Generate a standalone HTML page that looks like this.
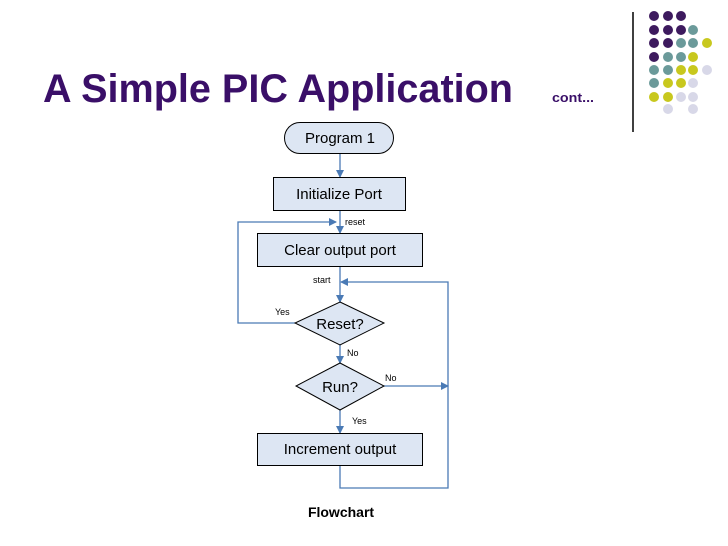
<!DOCTYPE html>
<html><head><style>body{margin:0;background:#fff}svg{display:block}</style></head><body>
<svg width="728" height="546" xmlns="http://www.w3.org/2000/svg" font-family="Liberation Sans, Arial, sans-serif">
<defs><marker id="a" markerWidth="8" markerHeight="8" refX="7" refY="4" orient="auto" markerUnits="userSpaceOnUse"><path d="M0,0 L8,4 L0,8 z" fill="#4a7ab5"/></marker></defs>
<text x="43" y="102" font-size="40" font-weight="bold" fill="#3a0f68" textLength="470" lengthAdjust="spacingAndGlyphs">A Simple PIC Application</text>
<text x="552" y="102" font-size="13" font-weight="bold" fill="#3a0f68" textLength="42" lengthAdjust="spacingAndGlyphs">cont...</text>
<line x1="633" y1="12" x2="633" y2="132" stroke="#000" stroke-width="1.5"/>
<g>
<circle cx="654" cy="16" r="5" fill="#3d1a5e"/><circle cx="668" cy="16" r="5" fill="#3d1a5e"/><circle cx="681" cy="16" r="5" fill="#3d1a5e"/>
<circle cx="654" cy="30" r="5" fill="#3d1a5e"/><circle cx="668" cy="30" r="5" fill="#3d1a5e"/><circle cx="681" cy="30" r="5" fill="#3d1a5e"/><circle cx="693" cy="30" r="5" fill="#6b9a9a"/>
<circle cx="654" cy="43" r="5" fill="#3d1a5e"/><circle cx="668" cy="43" r="5" fill="#3d1a5e"/><circle cx="681" cy="43" r="5" fill="#6b9a9a"/><circle cx="693" cy="43" r="5" fill="#6b9a9a"/><circle cx="707" cy="43" r="5" fill="#c8c81e"/>
<circle cx="654" cy="57" r="5" fill="#3d1a5e"/><circle cx="668" cy="57" r="5" fill="#6b9a9a"/><circle cx="681" cy="57" r="5" fill="#6b9a9a"/><circle cx="693" cy="57" r="5" fill="#c8c81e"/>
<circle cx="654" cy="70" r="5" fill="#6b9a9a"/><circle cx="668" cy="70" r="5" fill="#6b9a9a"/><circle cx="681" cy="70" r="5" fill="#c8c81e"/><circle cx="693" cy="70" r="5" fill="#c8c81e"/><circle cx="707" cy="70" r="5" fill="#d8d8e8"/>
<circle cx="654" cy="83" r="5" fill="#6b9a9a"/><circle cx="668" cy="83" r="5" fill="#c8c81e"/><circle cx="681" cy="83" r="5" fill="#c8c81e"/><circle cx="693" cy="83" r="5" fill="#d8d8e8"/>
<circle cx="654" cy="97" r="5" fill="#c8c81e"/><circle cx="668" cy="97" r="5" fill="#c8c81e"/><circle cx="681" cy="97" r="5" fill="#d8d8e8"/><circle cx="693" cy="97" r="5" fill="#d8d8e8"/>
<circle cx="668" cy="109" r="5" fill="#d8d8e8"/><circle cx="693" cy="109" r="5" fill="#d8d8e8"/>
</g>
<g stroke="#4a7ab5" stroke-width="1.3" fill="none">
<line x1="340" y1="154" x2="340" y2="177" marker-end="url(#a)"/>
<line x1="340" y1="211" x2="340" y2="233" marker-end="url(#a)"/>
<line x1="340" y1="266" x2="340" y2="302" marker-end="url(#a)"/>
<line x1="340" y1="345" x2="340" y2="363" marker-end="url(#a)"/>
<line x1="340" y1="410" x2="340" y2="433" marker-end="url(#a)"/>
<polyline points="295,323 238,323 238,222 336,222" marker-end="url(#a)"/>
<polyline points="384,386 448,386" marker-end="url(#a)"/>
<polyline points="340,465 340,488 448,488 448,282 341,282" marker-end="url(#a)"/>
</g>
<g stroke="#000" stroke-width="1" fill="#dde6f3">
<rect x="284.5" y="122.5" width="109" height="31" rx="15.5"/>
<rect x="273.5" y="177.5" width="132" height="33"/>
<rect x="257.5" y="233.5" width="165" height="33"/>
<polygon points="340,302 384,323 340,345 295,323"/>
<polygon points="340,363 384,386 340,410 296,386"/>
<rect x="257.5" y="433.5" width="165" height="32"/>
</g>
<g font-size="15" fill="#000" text-anchor="middle">
<text x="340" y="143">Program  1</text>
<text x="339" y="199">Initialize Port</text>
<text x="340" y="255">Clear output port</text>
<text x="340" y="329">Reset?</text>
<text x="340" y="392">Run?</text>
<text x="340" y="454">Increment output</text>
</g>
<g font-size="9" fill="#000">
<text x="345" y="225">reset</text>
<text x="313" y="283">start</text>
<text x="275" y="315">Yes</text>
<text x="347" y="356">No</text>
<text x="385" y="381">No</text>
<text x="352" y="424">Yes</text>
</g>
<text x="341" y="517" font-size="14" font-weight="bold" text-anchor="middle">Flowchart</text>
</svg>
</body></html>
